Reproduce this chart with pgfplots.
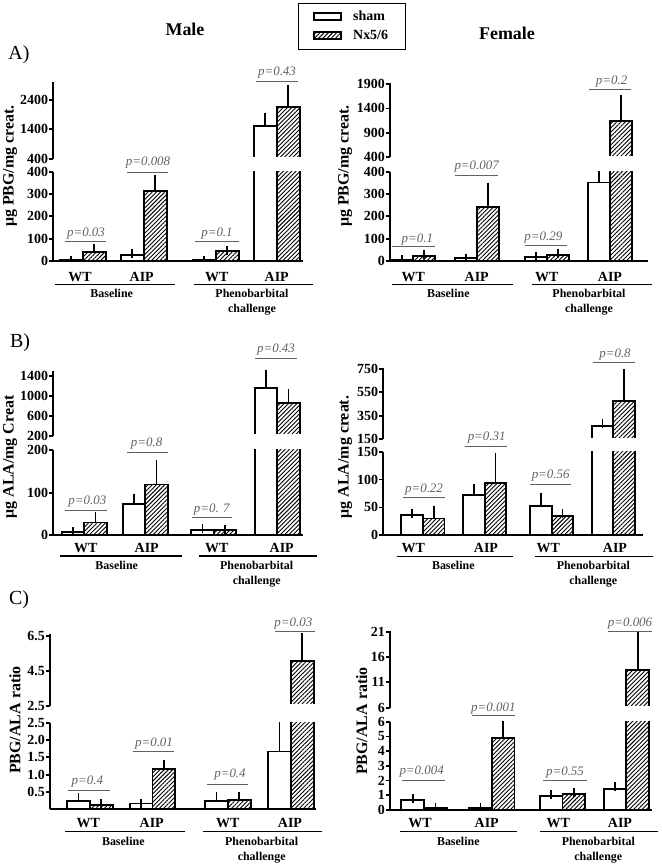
\documentclass[border=0pt]{standalone}
\usepackage{pgfplots}
\pgfplotsset{compat=1.18}
\usepackage{pgfplotstable}
\usetikzlibrary{patterns.meta}
\usepackage{fontspec}
\setmainfont{Liberation Serif}
\colorlet{pcol}{black!62}

% x = bar centre in bp from the y axis line
\pgfplotstableread{
xs sham es xn nx en
18 3 0 41 42 15
79 27 7 102 313 50
151 3 0 174 45 3
212 1515 283 235 2152 590
}\mA
\pgfplotstableread{
xs sham es xn nx en
12.3 6 0 34.3 22 8
76 12 1 98 241 90
146 16.5 3.5 168 27 7
209 352 45 231 1149 437
}\fA
\pgfplotstableread{
xs sham es xn nx en
19.7 7 1.5 42.2 30 14
80.7 73 14 103.2 119 48
149.2 12.5 2.5 171.7 12 0.5
212.7 1155 309 235.2 853 186
}\mB
\pgfplotstableread{
xs sham es xn nx en
28.7 36.4 3 50.4 30 14
90.5 72 12 112.2 94 46
157.5 53 14.5 179.2 35 4.5
219.2 261 23 240.9 478 229
}\fB
\pgfplotstableread{
xs sham es xn nx en
28.5 0.25 0.09 51.3 0.125 0.03
91 0.17 0.01 113.8 1.16 0.14
166.5 0.24 0.13 189.3 0.27 0.10
229.5 1.67 0.80 252.3 5.07 1.37
}\mC
\pgfplotstableread{
xs sham es xn nx en
22.7 0.68 0.12 45.4 0.16 0.03
90.5 0.15 0.03 113.2 4.87 1.03
161.2 0.95 0.07 183.9 1.07 0.13
225 1.43 0.16 247.7 13.4 6.6
}\fC

\pgfplotsset{
  base/.style={scale only axis, anchor=south west, xmin=0, enlargelimits=false,
    clip marker paths=true,
    axis line style={line width=1.8bp, black},
    major tick style={line width=1.8bp, black},
    tick align=outside, major tick length=4bp,
    yticklabel style={font=\bfseries\fontsize{14}{14}\selectfont, inner xsep=1bp},
    ybar, xtick=\empty},
  low/.style={base, axis x line*=bottom, axis y line*=left},
  up/.style={base, axis x line=none, axis y line*=left, restrict y to domain=#1:100000},
  shamst/.style={draw=black, fill=white, line width=1.8bp, bar shift=0pt,
    error bars/.cd, y dir=plus, y explicit,
    error bar style={line width=1.8bp, black, solid},
    error mark options={line width=1.8bp, black, mark size=4.5bp}},
  nxst/.style={draw=black, pattern={Lines[angle=45,distance=3bp,line width=0.9bp]}, line width=1.8bp, bar shift=0pt,
    error bars/.cd, y dir=plus, y explicit,
    error bar style={line width=1.8bp, black, solid},
    error mark options={line width=1.8bp, black, mark size=4.5bp}},
}
\newcommand{\pairs}[2]{%
  \addplot[bar width=#2bp, forget plot, shamst] table[x=xs,y=sham,y error=es]{#1};
  \addplot[bar width=#2bp, forget plot, nxst] table[x=xn,y=nx,y error=en]{#1};
}
\newcommand{\pv}[6]{\draw[pcol, line width=0.9bp] (#4,#6)--(#5,#6);
  \node[text=pcol, inner sep=0, font=\itshape\fontsize{13}{13}\selectfont] at (#2,#3) {#1};}
\newcommand{\cat}[3]{\node[inner sep=0, font=\bfseries\fontsize{14}{14}\selectfont] at (#2,#3) {#1};}
\newcommand{\gline}[3]{\draw[black, line width=1.2bp] (#1,#3)--(#2,#3);}
\newcommand{\gtxt}[3]{\node[inner sep=0, anchor=north, align=center, font=\bfseries\fontsize{12}{14.7}\selectfont] at (#2,#3) {#1};}
\newcommand{\ylab}[3]{\node[rotate=90, inner sep=0, font=\bfseries\fontsize{16}{16}\selectfont] at (#2,#3) {#1};}
% white band hiding the bottom edge of the bars at the axis break
\newcommand{\brk}[3]{\fill[white] (#1,#3-1.3) rectangle (#2,#3+1.2);}

\begin{document}
\begin{tikzpicture}
\useasboundingbox (0,0) rectangle (662bp,866bp);

% ---------- A male ----------
\begin{axis}[low, at={(53.3bp,605bp)}, width=249.7bp, height=89.3bp, xmax=249.7,
  ymin=0, ymax=400, ytick={0,100,200,300,400}, yticklabels={0,100,200,300,400}]
\pairs{\mA}{23}
\end{axis}
\begin{axis}[up=400, at={(53.3bp,707.3bp)}, width=249.7bp, height=76.3bp, xmax=249.7,
  ymin=400, ymax=3000, ytick={400,1400,2400}, yticklabels={400,1400,2400},
  legend style={at={(0.98,2.045)}, anchor=north west, draw=black, line width=0.8bp, fill=white,
    font=\bfseries\fontsize{14}{14}\selectfont, inner xsep=15bp, inner ysep=6bp, row sep=4bp,
    cells={anchor=west}, /tikz/every odd column/.append style={column sep=9bp}}]
\pairs{\mA}{23}
\addlegendimage{legend image code/.code={\draw[black, fill=white, line width=1.8bp] (0bp,-3.5bp) rectangle (27bp,3.5bp);}}
\addlegendentry{sham}
\addlegendimage{legend image code/.code={\draw[black, pattern={Lines[angle=45,distance=3bp,line width=0.9bp]}, line width=1.8bp] (0bp,-3.5bp) rectangle (27bp,3.5bp);}}
\addlegendentry{Nx5/6}
\end{axis}

% ---------- A female ----------
\begin{axis}[low, at={(390bp,605bp)}, width=258bp, height=89.3bp, xmax=258,
  ymin=0, ymax=400, ytick={0,100,200,300,400}, yticklabels={0,100,200,300,400}]
\pairs{\fA}{22}
\end{axis}
\begin{axis}[up=400, at={(390bp,708.7bp)}, width=258bp, height=74.3bp, xmax=258,
  ymin=400, ymax=1920, ytick={400,900,1400,1900}, yticklabels={400,900,1400,1900}]
\pairs{\fA}{22}
\end{axis}

% ---------- B male ----------
\begin{axis}[low, at={(53.3bp,330.7bp)}, width=249.7bp, height=85.3bp, xmax=249.7,
  ymin=0, ymax=200, ytick={0,100,200}, yticklabels={0,100,200}]
\pairs{\mB}{22.5}
\end{axis}
\begin{axis}[up=200, at={(53.3bp,430.3bp)}, width=249.7bp, height=65bp, xmax=249.7,
  ymin=200, ymax=1500, ytick={200,600,1000,1400}, yticklabels={200,600,1000,1400}]
\pairs{\mB}{22.5}
\end{axis}

% ---------- B female ----------
\begin{axis}[low, at={(383.3bp,330.7bp)}, width=260bp, height=83.6bp, xmax=260,
  ymin=0, ymax=150, ytick={0,50,100,150}, yticklabels={0,50,100,150}]
\pairs{\fB}{21.7}
\end{axis}
\begin{axis}[up=150, at={(383.3bp,427bp)}, width=260bp, height=71.2bp, xmax=260,
  ymin=150, ymax=760, ytick={150,350,550,750}, yticklabels={150,350,550,750}]
\pairs{\fB}{21.7}
\end{axis}

% ---------- C male ----------
\begin{axis}[low, at={(50bp,56.7bp)}, width=266bp, height=86.5bp, xmax=266,
  ymin=0, ymax=2.5, ytick={0.5,1,1.5,2,2.5}, yticklabels={0.5,1.0,1.5,2.0,2.5}]
\pairs{\mC}{22.8}
\end{axis}
\begin{axis}[up=2.5, at={(50bp,160.3bp)}, width=266bp, height=71.7bp, xmax=266,
  ymin=2.5, ymax=6.6, ytick={2.5,4.5,6.5}, yticklabels={2.5,4.5,6.5}]
\pairs{\mC}{22.8}
\end{axis}

% ---------- C female ----------
\begin{axis}[low, at={(390bp,56bp)}, width=262bp, height=88.3bp, xmax=262,
  ymin=0, ymax=6, ytick={0,1,2,3,4,5,6}, yticklabels={0,1,2,3,4,5,6}]
\pairs{\fC}{22.7}
\end{axis}
\begin{axis}[up=6, at={(390bp,158.3bp)}, width=262bp, height=77bp, xmax=262,
  ymin=6, ymax=21.2, ytick={6,11,16,21}, yticklabels={6,11,16,21}]
\pairs{\fC}{22.7}
\end{axis}

\begin{scope}[x=1bp, y=-1bp, shift={(0bp,866bp)}]
% hide bar bottoms at the breaks
\brk{54.4}{306}{158.7}
\brk{391.1}{651}{157.3}
\brk{54.4}{306}{435.7}
\brk{384.4}{646}{439}
\brk{51.1}{319}{705.7}
\brk{391.1}{655}{707.7}
% titles and panel letters
\node[font=\bfseries\fontsize{18}{18}\selectfont, inner sep=0] at (185,29) {Male};
\node[font=\bfseries\fontsize{18}{18}\selectfont, inner sep=0] at (507,33) {Female};
\node[font=\fontsize{20}{20}\selectfont, inner sep=0] at (19,55) {A)};
\node[font=\fontsize{20}{20}\selectfont, inner sep=0] at (20,343) {B)};
\node[font=\fontsize{20}{20}\selectfont, inner sep=0] at (19,600) {C)};
% y labels
\ylab{μg PBG/mg creat.}{10}{166}
\ylab{μg PBG/mg creat.}{345}{166}
\ylab{μg ALA/mg Creat}{10}{457}
\ylab{μg ALA/mg creat.}{345}{457}
\ylab{PBG/ALA ratio}{15}{720}
\ylab{PBG/ALA ratio}{361.7}{721}

% A male
\pv{p=0.03}{86}{233.3}{65}{106}{241.7}
\pv{p=0.008}{148}{163}{127}{168}{172.3}
\pv{p=0.1}{217}{233.3}{195}{239}{241.7}
\pv{p=0.43}{277}{72.7}{256}{298}{81}
\cat{WT}{80}{276.7}\cat{AIP}{141.7}{276.7}\cat{WT}{216.7}{276.7}\cat{AIP}{276.7}{276.7}
\gline{55}{175}{284.3}\gline{194}{313}{284.3}
\gtxt{Baseline}{111.7}{289}\gtxt{Phenobarbital\\challenge}{252}{289}
% A female
\pv{p=0.1}{417.3}{239.3}{391.7}{435}{246.7}
\pv{p=0.007}{476.7}{166.7}{455}{498.3}{175}
\pv{p=0.29}{543.3}{237.3}{525}{566.7}{245.7}
\pv{p=0.2}{611.7}{81.7}{589.3}{631}{89.3}
\cat{WT}{413.3}{276.7}\cat{AIP}{476.7}{276.7}\cat{WT}{546.7}{276.7}\cat{AIP}{610}{276.7}
\gline{391.7}{513.3}{284.3}\gline{531.7}{651.7}{284.3}
\gtxt{Baseline}{448.3}{289}\gtxt{Phenobarbital\\challenge}{589}{289}
% B male
\pv{p=0.03}{87.3}{501.7}{65}{106.7}{510.7}
\pv{p=0.8}{146.7}{444}{126.7}{168.3}{452.7}
\pv{p=0. 7}{211.7}{509.3}{191.7}{232.3}{517.3}
\pv{p=0.43}{276}{350}{255}{296.7}{358.3}
\cat{WT}{85.7}{548.3}\cat{AIP}{146.7}{548.3}\cat{WT}{216.7}{548.3}\cat{AIP}{281.7}{548.3}
\gline{60}{181.7}{556}\gline{199.3}{316.7}{556}
\gtxt{Baseline}{116.7}{561}\gtxt{Phenobarbital\\challenge}{256.7}{561}
% B female
\pv{p=0.22}{424}{490}{403.3}{445}{497.3}
\pv{p=0.31}{486.7}{437.3}{465}{506.7}{446.7}
\pv{p=0.56}{550.7}{476}{530}{571}{484}
\pv{p=0.8}{615}{355}{593.3}{635}{362.7}
\cat{WT}{413.3}{548.3}\cat{AIP}{486}{548.3}\cat{WT}{548.3}{548.3}\cat{AIP}{615}{548.3}
\gline{396.7}{513.3}{556.7}\gline{535}{653.3}{556.7}
\gtxt{Baseline}{453.3}{561}\gtxt{Phenobarbital\\challenge}{593.3}{561}
% C male
\pv{p=0.4}{87.3}{781.7}{68.3}{110}{790.7}
\pv{p=0.01}{154}{743.3}{132.7}{174}{751.7}
\pv{p=0.4}{230}{775}{207.3}{248.3}{784}
\pv{p=0.03}{293.3}{623.3}{275}{315}{631.7}
\cat{WT}{88.3}{823.3}\cat{AIP}{151.7}{823.3}\cat{WT}{227.7}{823.3}\cat{AIP}{290}{823.3}
\gline{65}{185}{831.7}\gline{203.3}{321.7}{831.7}
\gtxt{Baseline}{123.3}{837}\gtxt{Phenobarbital\\challenge}{261.7}{837}
% C female
\pv{p=0.004}{421.7}{771.7}{401.7}{445}{780}
\pv{p=0.001}{493.3}{708.3}{471.7}{515}{715.7}
\pv{p=0.55}{565}{772.7}{543.3}{586.7}{780.7}
\pv{p=0.006}{630}{623.3}{608.3}{651.7}{631.7}
\cat{WT}{420}{823.3}\cat{AIP}{486.7}{823.3}\cat{WT}{558.3}{823.3}\cat{AIP}{620}{823.3}
\gline{400}{516.7}{831.7}\gline{540}{658.3}{831.7}
\gtxt{Baseline}{458.3}{837}\gtxt{Phenobarbital\\challenge}{598.3}{837}
\end{scope}
\end{tikzpicture}
\end{document}
